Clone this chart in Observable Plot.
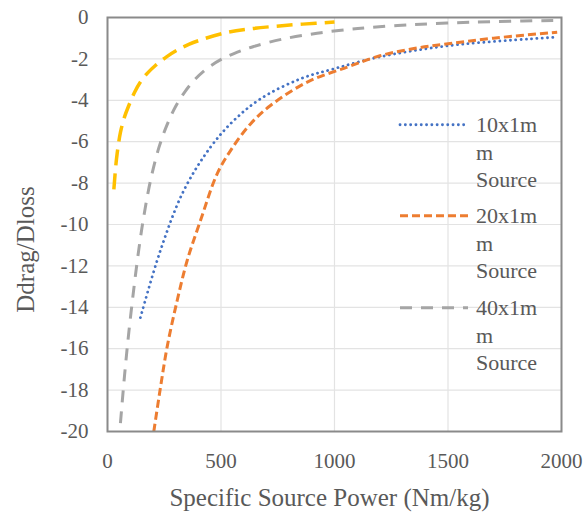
<!DOCTYPE html>
<html>
<head>
<meta charset="utf-8">
<script src="https://cdn.jsdelivr.net/npm/d3@7"></script>
<script src="https://cdn.jsdelivr.net/npm/@observablehq/plot@0.6"></script>
<style>
  html, body { margin: 0; padding: 0; background: #fff; }
  #wrap, #wrap svg, #wrap svg text, .leg .txt {
    font-family: "Liberation Serif", Tinos, "Times New Roman", "DejaVu Serif", "Noto Serif", serif;
  }
  #wrap { position: relative; width: 586px; height: 512px; }
  .leg { position: absolute; left: 398px; display: flex; align-items: flex-start; }
  .leg svg { display: block; }
  .leg .txt { font-size: 22px; line-height: 27.5px; color: #595959; margin-left: 8px; }
</style>
</head>
<body>
<div id="wrap"></div>
<script>
// ---- data ----
const seriesNames = ["10x1mm Source", "20x1mm Source", "40x1mm Source", "unlabelled"];
const legendLines = [["10x1m", "m", "Source"], ["20x1m", "m", "Source"], ["40x1m", "m", "Source"]];

const xTicks = [0, 500, 1000, 1500, 2000];
const yTicks = [0, -2, -4, -6, -8, -10, -12, -14, -16, -18, -20];

const xYellow = [28, 40, 57, 75, 94, 120, 145, 175, 211, 260, 300, 358, 420, 520, 620, 733, 860, 1000];
const yYellow = [-8.3, -6.8, -5.55, -4.8, -4.25, -3.6, -3.12, -2.7, -2.32, -1.9, -1.62, -1.3, -1.05, -0.74, -0.56, -0.43, -0.32, -0.22];

const xGray = [57, 75, 94, 116, 138, 160, 189, 226, 260, 300, 340, 388, 440, 505, 557, 644, 777, 923, 1056, 1159, 1320, 1496, 1700, 1996];
const yGray = [-19.6, -17.3, -15.2, -13.1, -11.2, -9.6, -7.9, -6.3, -5.25, -4.3, -3.6, -2.96, -2.45, -2.0, -1.74, -1.4, -1.03, -0.76, -0.58, -0.48, -0.36, -0.27, -0.2, -0.14];

const xBlue = [145, 233, 336, 454, 556, 674, 850, 997, 1188, 1511, 1981];
const yBlue = [-14.5, -11.26, -8.36, -6.26, -4.98, -3.93, -2.96, -2.48, -1.93, -1.35, -0.95];

const xOrange = [204, 233, 263, 307, 351, 410, 483, 542, 630, 718, 880, 1056, 1200, 1350, 1500, 1700, 1981];
const yOrange = [-20, -17.9, -15.9, -13.67, -11.74, -9.8, -7.55, -6.43, -5.14, -4.25, -3.12, -2.4, -1.85, -1.5, -1.27, -1.0, -0.71];

// ---- styles ----
const styles = {
  "10x1mm Source": {stroke: "#4472C4", strokeWidth: 2.8, strokeDasharray: "0.1,5.2", strokeLinecap: "round"},
  "20x1mm Source": {stroke: "#ED7D31", strokeWidth: 3, strokeDasharray: "8,4", strokeLinecap: "butt"},
  "40x1mm Source": {stroke: "#A5A5A5", strokeWidth: 3, strokeDasharray: "12,9", strokeLinecap: "butt"},
  "unlabelled":    {stroke: "#FFC000", strokeWidth: 3.5, strokeDasharray: "16,8", strokeLinecap: "butt"}
};

const toRows = (xs, ys) => xs.map((x, i) => ({x, y: ys[i]}));
const series = {
  "unlabelled": toRows(xYellow, yYellow),
  "40x1mm Source": toRows(xGray, yGray),
  "10x1mm Source": toRows(xBlue, yBlue),
  "20x1mm Source": toRows(xOrange, yOrange)
};

const drawOrder = ["unlabelled", "40x1mm Source", "10x1mm Source", "20x1mm Source"];
const serif = '"Liberation Serif", Tinos, "Times New Roman", "DejaVu Serif", "Noto Serif", serif';

const chart = Plot.plot({
  width: 586,
  height: 512,
  marginLeft: 107,
  marginRight: 25,
  marginTop: 17,
  marginBottom: 81,
  style: {fontFamily: serif, background: "white", color: "#595959"},
  x: {domain: [0, 2000]},
  y: {domain: [-20, 0]},
  marks: [
    Plot.gridX(xTicks, {stroke: "#e3e3e3", strokeOpacity: 1, strokeWidth: 1.2}),
    Plot.gridY(yTicks, {stroke: "#e3e3e3", strokeOpacity: 1, strokeWidth: 1.2}),
    ...drawOrder.map(name => Plot.line(series[name], {x: "x", y: "y", curve: "catmull-rom", ...styles[name]})),
    Plot.frame({stroke: "#8a8a8a", strokeWidth: 2}),
    Plot.axisX(xTicks, {tickSize: 0, tickPadding: 22, fontSize: 21, label: null, fill: "#595959", tickFormat: d => String(d)}),
    Plot.axisY(yTicks, {tickSize: 0, tickPadding: 19, fontSize: 21, label: null, fill: "#595959", tickFormat: d => d === 0 ? "0" : "-" + Math.abs(d)}),
    Plot.text(["Specific Source Power (Nm/kg)"], {frameAnchor: "bottom", dy: 66, dx: -5, fontSize: 25, fill: "#595959", lineAnchor: "middle", textAnchor: "middle", fontFamily: serif}),
    Plot.text(["Ddrag/Dloss"], {frameAnchor: "left", rotate: -90, dx: -82, dy: 25, fontSize: 25, fill: "#595959", lineAnchor: "middle", textAnchor: "middle", fontFamily: serif})
  ]
});

const wrap = document.getElementById("wrap");
wrap.appendChild(chart);

// ---- legend (inside plot, right) ----
const legendCenters = [125, 216, 308];
["10x1mm Source", "20x1mm Source", "40x1mm Source"].forEach((name, i) => {
  const s = styles[name];
  const div = document.createElement("div");
  div.className = "leg";
  div.style.top = (legendCenters[i] - 13.75) + "px";
  const ns = "http://www.w3.org/2000/svg";
  const svg = document.createElementNS(ns, "svg");
  svg.setAttribute("width", 70);
  svg.setAttribute("height", 27.5);
  const ln = document.createElementNS(ns, "line");
  ln.setAttribute("x1", 2); ln.setAttribute("x2", 70);
  ln.setAttribute("y1", 13.75); ln.setAttribute("y2", 13.75);
  ln.setAttribute("stroke", s.stroke);
  ln.setAttribute("stroke-width", s.strokeWidth);
  ln.setAttribute("stroke-dasharray", s.strokeDasharray);
  ln.setAttribute("stroke-linecap", s.strokeLinecap);
  svg.appendChild(ln);
  div.appendChild(svg);
  const t = document.createElement("div");
  t.className = "txt";
  t.innerHTML = legendLines[i].join("<br>");
  div.appendChild(t);
  wrap.appendChild(div);
});
</script>
</body>
</html>
